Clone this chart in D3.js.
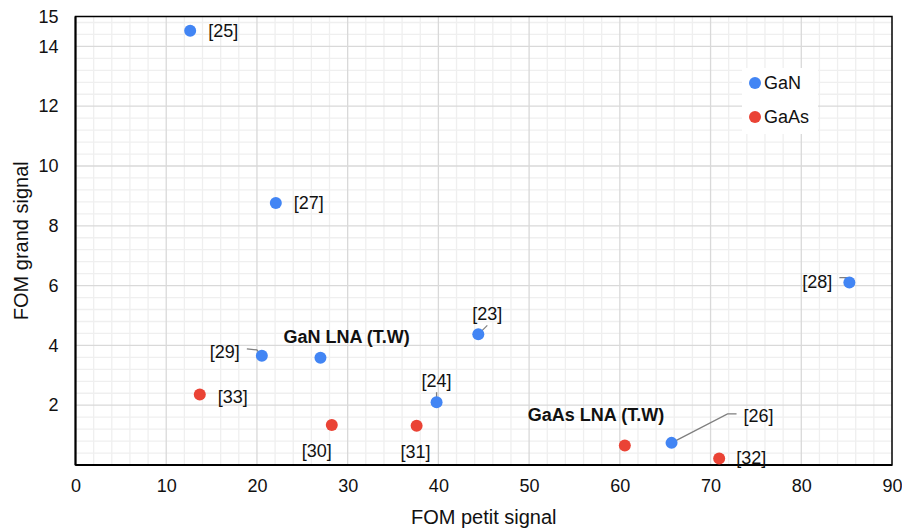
<!DOCTYPE html>
<html>
<head>
<meta charset="utf-8">
<script src="https://cdn.jsdelivr.net/npm/d3@7/dist/d3.min.js"></script>
<style>
  html, body { margin: 0; padding: 0; background: #fff; }
  svg { display: block; font-family: "Liberation Sans", Arial, sans-serif; }
</style>
</head>
<body>
<svg id="chart" width="902" height="529"></svg>
<script>
// ---- data ----
const seriesNames = ["GaN", "GaAs"];
const ganLabels = ["[25]", "[27]", "[28]", "[23]", "[29]", "GaN LNA (T.W)", "[24]", "[26]"];
const ganX = [12.64, 22.08, 85.3, 44.4, 20.54, 27.0, 39.8, 65.7];
const ganY = [14.52, 8.76, 6.10, 4.37, 3.65, 3.59, 2.10, 0.74];
const gaasLabels = ["[33]", "[30]", "[31]", "GaAs LNA (T.W)", "[32]"];
const gaasX = [13.7, 28.25, 37.6, 60.55, 70.95];
const gaasY = [2.36, 1.34, 1.31, 0.65, 0.22];
const xTicks = [0, 10, 20, 30, 40, 50, 60, 70, 80, 90];
const yTicks = [2, 4, 6, 8, 10, 12, 14, 15];
const xTitle = "FOM petit signal";
const yTitle = "FOM grand signal";

// ---- label layout (pixel offsets from the point) ----
const labelLayout = {
  "[25]": { dx: 18, dy: 0, anchor: "start" },
  "[27]": { dx: 18, dy: 0, anchor: "start" },
  "[28]": { dx: -17, dy: -1, anchor: "end", leader: [[-10, -5], [-2, -5], [0, 0]] },
  "[23]": { dx: 9, dy: -21, anchor: "middle", leader: [[9, -9], [1, -1]] },
  "[29]": { dx: -22, dy: -4, anchor: "end", leader: [[-15, -7], [-5, -6], [0, 0]] },
  "GaN LNA (T.W)": { dx: -37, dy: -21, anchor: "start", bold: true },
  "[24]": { dx: 0, dy: -22, anchor: "middle", leader: [[0, -10], [0, -2]] },
  "[26]": { dx: 72, dy: -27, anchor: "start", leader: [[65, -29], [56, -29], [0, 0]] },
  "[33]": { dx: 18, dy: 2, anchor: "start" },
  "[30]": { dx: -15, dy: 26, anchor: "middle" },
  "[31]": { dx: -1, dy: 26, anchor: "middle" },
  "GaAs LNA (T.W)": { dx: -97, dy: -31, anchor: "start", bold: true },
  "[32]": { dx: 17, dy: -1, anchor: "start" }
};

const colors = { GaN: "#4285F4", GaAs: "#EA4335" };

const points = [];
ganLabels.forEach((l, i) => points.push({ series: "GaN", label: l, x: ganX[i], y: ganY[i] }));
gaasLabels.forEach((l, i) => points.push({ series: "GaAs", label: l, x: gaasX[i], y: gaasY[i] }));

const svg = d3.select("#chart");
const margin = { left: 75.5, right: 10, top: 16.5, bottom: 64 };
const W = 902, H = 529;
const x = d3.scaleLinear().domain([0, 90]).range([margin.left, W - margin.right]);
const y = d3.scaleLinear().domain([0, 15]).range([H - margin.bottom, margin.top]);

// grid: minor
const g = svg.append("g");
g.selectAll("line.xminor").data(d3.range(2, 90, 2).filter(v => v % 10 !== 0)).join("line")
  .attr("x1", d => x(d)).attr("x2", d => x(d)).attr("y1", y(0)).attr("y2", y(15))
  .attr("stroke", "#efefef").attr("stroke-width", 1.3);
g.selectAll("line.yminor").data(d3.range(1, 38).map(i => +(i * 0.4).toFixed(1)).filter(v => Math.abs(v / 2 - Math.round(v / 2)) > 1e-6)).join("line")
  .attr("x1", x(0)).attr("x2", x(90)).attr("y1", d => y(d)).attr("y2", d => y(d))
  .attr("stroke", "#efefef").attr("stroke-width", 1.3);
// grid: major
g.selectAll("line.xmajor").data(xTicks.filter(v => v > 0 && v < 90)).join("line")
  .attr("x1", d => x(d)).attr("x2", d => x(d)).attr("y1", y(0)).attr("y2", y(15))
  .attr("stroke", "#d9d9d9").attr("stroke-width", 1.3);
g.selectAll("line.ymajor").data(yTicks.filter(v => v < 15)).join("line")
  .attr("x1", x(0)).attr("x2", x(90)).attr("y1", d => y(d)).attr("y2", d => y(d))
  .attr("stroke", "#d9d9d9").attr("stroke-width", 1.3);

// border
svg.append("rect").attr("x", x(0)).attr("y", y(15)).attr("width", x(90) - x(0)).attr("height", y(0) - y(15))
  .attr("fill", "none").attr("stroke", "#000").attr("stroke-width", 1.5);
svg.append("line").attr("x1", x(0)).attr("x2", x(90)).attr("y1", y(0)).attr("y2", y(0)).attr("stroke", "#000").attr("stroke-width", 2);
svg.append("line").attr("x1", x(0)).attr("x2", x(0)).attr("y1", y(0)).attr("y2", y(15)).attr("stroke", "#000").attr("stroke-width", 2);

// axes
const xAxis = d3.axisBottom(x).tickValues(xTicks).tickSize(0).tickPadding(14);
const xa = svg.append("g").attr("transform", `translate(0,${y(0)})`).call(xAxis);
const yAxis = d3.axisLeft(y).tickValues(yTicks).tickSize(0).tickPadding(17);
const ya = svg.append("g").attr("transform", `translate(${x(0)},0)`).call(yAxis);
[xa, ya].forEach(a => {
  a.select(".domain").remove();
  a.selectAll("text").attr("font-size", 18).attr("fill", "#111").attr("font-family", "Liberation Sans, Arial, sans-serif");
});

// titles
svg.append("text").attr("x", (x(0) + x(90)) / 2).attr("y", 517).attr("dy", "0.35em")
  .attr("text-anchor", "middle").attr("font-size", 20).attr("fill", "#111").text(xTitle);
svg.append("text").attr("transform", `translate(21,${(y(0) + y(15)) / 2}) rotate(-90)`).attr("dy", "0.35em")
  .attr("text-anchor", "middle").attr("font-size", 20).attr("fill", "#111").text(yTitle);

// leaders
const lineGen = d3.line();
points.forEach(p => {
  const L = labelLayout[p.label];
  if (L && L.leader) {
    const px = x(p.x), py = y(p.y);
    svg.append("path").attr("d", lineGen(L.leader.map(([a, b]) => [px + a, py + b])))
      .attr("fill", "none").attr("stroke", "#7f7f7f").attr("stroke-width", 1.3);
  }
});

// points
svg.append("g").selectAll("circle").data(points).join("circle")
  .attr("cx", d => x(d.x)).attr("cy", d => y(d.y)).attr("r", 6)
  .attr("fill", d => colors[d.series]);

// labels
svg.append("g").selectAll("text").data(points).join("text")
  .attr("x", d => x(d.x) + labelLayout[d.label].dx)
  .attr("y", d => y(d.y) + labelLayout[d.label].dy)
  .attr("dy", "0.35em")
  .attr("text-anchor", d => labelLayout[d.label].anchor)
  .attr("font-size", 18)
  .attr("font-weight", d => labelLayout[d.label].bold ? "bold" : "normal")
  .attr("fill", "#111")
  .text(d => d.label);

// legend
const lg = svg.append("g").attr("transform", "translate(742,68)");
lg.append("rect").attr("width", 76).attr("height", 66).attr("fill", "#fff");
seriesNames.forEach((s, i) => {
  lg.append("circle").attr("cx", 13).attr("cy", 15 + i * 34).attr("r", 6).attr("fill", colors[s]);
  lg.append("text").attr("x", 22).attr("y", 15 + i * 34).attr("dy", "0.35em")
    .attr("font-size", 18).attr("fill", "#111").text(s);
});
</script>
</body>
</html>
